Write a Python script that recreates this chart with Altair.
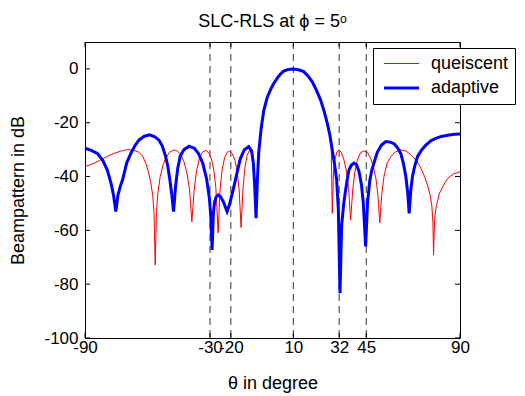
import altair as alt
import pandas as pd

# ---------------- data ----------------
x_ticks = [-90, -30, -20, 10, 32, 45, 90]
y_ticks = [-100, -80, -60, -40, -20, 0]
null_angles = [-30, -20, 10, 32, 45]
series_names = ["queiscent", "adaptive"]
series_colors = ["#ff0000", "#0000ff"]
series_widths = [1, 3]

q_deg = [-90, -87.5, -85.7, -83, -80.9, -78.5, -76, -73, -71, -69.5, -67, -64.5, -62.5, -60.8,
         -59.5, -58.4, -57.5, -56.9, -56.3, -55.7, -55.0, -53.9, -52.5, -51.2, -49.5, -47.2,
         -45.5, -44, -42.5, -41, -39.8, -38.7, -37.6, -36.5, -35, -33.5, -31.9, -30.5, -29.3,
         -28.2, -27.2, -26.1, -25.2, -24.2, -23, -21.8, -20.6, -19.3, -18, -17, -16, -15.1,
         -14.2, -13.3, -12.2, -11, -9.9, -9, -8.3, -7.8, -7.0, -6.6, -5.5, -4.2, -2.5, -1,
         0.5, 2.2, 3.8, 5.4, 7.5, 10, 12.5, 15, 17, 19.1, 21, 23.1, 24.8, 26.3, 27.5, 28.2,
         28.7, 29.3, 30, 31, 31.9, 33, 34.2, 35.5, 36.5, 37.5, 38.5, 39.5, 40.7, 42.2, 43.9,
         45.5, 47, 48.5, 49.7, 50.6, 51.5, 52.4, 53.5, 55, 56.8, 59, 61.6, 64, 66.5, 68.8,
         71, 73, 74.5, 75.7, 76.5, 77, 77.3, 77.8, 78.4, 80, 81.7, 83, 84.8, 87, 90]
q_db = [-36.3, -35.6, -35.1, -34.0, -33.2, -32.2, -31.4, -30.6, -30.2, -30.0, -30.2, -30.8, -32.2,
        -35.1, -38.5, -42.5, -47, -53, -72.9, -53, -46, -40, -35.5, -33.2, -31, -30.1,
        -30.6, -31.8, -34.5, -39, -45, -56.8, -45, -38, -33, -30.8, -30.3, -31.3, -33.5,
        -37.5, -44, -60.9, -45, -37.5, -33, -31, -30.6, -31.5, -34, -38, -45, -58.9,
        -45, -37, -32, -30.2, -31.5, -36, -43, -55, -38, -31, -22.5, -15.5, -10.5, -7.8,
        -5.5, -3.5, -1.9, -0.8, -0.2, 0, -0.3, -1, -2.6, -4.8, -7.8, -11.6, -15.8, -20.2, -24.5, -30,
        -53.7, -38, -33.5, -30.7, -30.1, -31, -33.5, -38, -44, -56.1, -45, -38.5, -34, -31.2, -30.5,
        -31, -33, -36.5, -41, -47, -57.2, -47, -40, -35, -32.6, -30.8, -30.1, -30.5, -32, -33.8,
        -36.5, -40, -43.5, -47, -51, -57, -69.2, -56, -52, -46.5, -43.8, -42, -40.2, -39, -38.2]

a_deg = [-90, -87, -84.1, -81.5, -79.3, -77.5, -76.3, -75.2, -74.2, -73, -72, -70, -68, -66,
         -64, -61.5, -59, -56.5, -54.5, -53, -51.5, -50.3, -49.3, -48.3, -47.5, -46.5, -45.5,
         -44.3, -42.5, -40, -37.5, -35.5, -33.5, -31.6, -30.3, -29.6, -29, -28.4, -27.8, -27,
         -26, -25, -23.5, -21.8, -20.5, -19.2, -18, -17, -15.5, -13.5, -11.4, -10, -9.2, -8.5,
         -7.9, -7.3, -6.6, -5.5, -4.2, -2.5, -1, 0.5, 2.2, 3.8, 5.4, 7.5, 10, 12.5, 15, 17,
         19.1, 21, 23.1, 24.8, 26.3, 27.5, 28.7, 29.8, 30.8, 31.6, 32.4, 33.2, 34.2, 35.1, 36,
         36.7, 37.8, 39.1, 40.3, 41.5, 42.7, 43.6, 44.7, 45.6, 46.7, 47.7, 48.7, 50.3, 52.3,
         54.4, 56.5, 58.4, 60.2, 61.6, 62.8, 64, 64.9, 65.6, 66.4, 67.2, 68.3, 69.6, 71.5,
         73.6, 76, 78.4, 81, 84.8, 87.5, 90]
a_db = [-29.5, -30.3, -31.4, -34, -37.6, -42.5, -47, -53, -47, -43.5, -41.3, -35, -31.4, -28.5,
        -26.4, -25, -24.5, -25.2, -26.5, -28.5, -32, -36, -41, -47, -53, -43.5, -37,
        -32.5, -30, -28.7, -29.5, -31.5, -35, -41, -48, -55, -67.3, -54, -49.5, -47.5,
        -46.8, -47.4, -49.5, -53, -50, -46, -42, -38.5, -33.5, -30, -28.9, -30.5, -35, -44,
        -55.5, -42, -31, -22.5, -15.5, -10.5, -7.8, -5.5, -3.5, -1.9, -0.8, -0.2, 0, -0.3, -1, -2.6,
        -4.8, -7.8, -11.6, -15.8, -20.2, -24.5, -30.1, -35.5, -41.3, -52, -83.4, -58, -50, -45, -40.5,
        -37.6, -35.8, -35, -35.5, -38, -43, -50, -66, -50, -41.5, -37.5, -35, -31, -28.3,
        -27, -27.2, -27.8, -29.5, -31.5, -35, -40, -46, -53.7, -45, -40, -36, -32.6, -30.2,
        -28.3, -26.7, -25.8, -25.1, -24.6, -24.3, -24.2]

# ---------------- tables ----------------
df_q = pd.DataFrame({"deg": q_deg, "db": q_db, "series": series_names[0]})
df_a = pd.DataFrame({"deg": a_deg, "db": a_db, "series": series_names[1]})
df_null = pd.DataFrame({"deg": null_angles})
df_xt = pd.DataFrame({"deg": x_ticks})
df_yt = pd.DataFrame({"db": y_ticks})

FONT = "Liberation Sans"
W, H = 375, 296

xs = alt.Scale(domain=[-90, 90], nice=False, zero=False)
ys = alt.Scale(domain=[-100, 10], nice=False, zero=False)

leg = alt.Legend(
    title=None, orient="none", legendX=288, legendY=6,
    symbolType="M-3,0H3", symbolSize=136,
    symbolOffset=13, labelOffset=20.5,
    labelFont=FONT, labelFontSize=18, labelColor="black",
    labelExpr="datum.label + '   '",
    strokeColor="black", fillColor="white",
    padding=6.5, rowPadding=6.6,
)
color = alt.Color("series:N", scale=alt.Scale(domain=series_names, range=series_colors), legend=leg)
swidth = alt.StrokeWidth("series:N", scale=alt.Scale(domain=series_names, range=series_widths), legend=leg)

x_axis = alt.Axis(values=x_ticks, labelExpr="'' + datum.value", labelFlush=False, labelOverlap=False,
                  labelPadding=1, ticks=False, tickSize=0, domain=False, grid=False,
                  title="θ in degree", titlePadding=19)
y_axis = alt.Axis(values=y_ticks, labelExpr="'' + datum.value", labelOverlap=False,
                  labelPadding=7, ticks=False, tickSize=0, domain=False, grid=False,
                  title="Beampattern in dB", titlePadding=16)

X = alt.X("deg:Q", scale=xs, axis=x_axis)
Y = alt.Y("db:Q", scale=ys, axis=y_axis)

dashed = alt.Chart(df_null).mark_rule(strokeDash=[7, 5], color="#333333", strokeWidth=1).encode(x=X)

red = alt.Chart(df_q).mark_line(interpolate="linear").encode(
    x=X, y=Y, color=color, strokeWidth=swidth)

blue = alt.Chart(df_a).mark_line(interpolate="linear").encode(
    x=X, y=Y, color=color, strokeWidth=swidth)

yt_left = alt.Chart(df_yt).mark_rule(color="black").encode(y=Y, x=alt.value(0), x2=alt.value(5))
yt_right = alt.Chart(df_yt).mark_rule(color="black").encode(y=Y, x=alt.value(W - 5), x2=alt.value(W))
xt_bottom = alt.Chart(df_xt).mark_rule(color="black").encode(x=X, y=alt.value(H - 5), y2=alt.value(H))
xt_top = alt.Chart(df_xt).mark_rule(color="black").encode(x=X, y=alt.value(0), y2=alt.value(5))

chart = alt.layer(dashed, red, blue, yt_left, yt_right, xt_bottom, xt_top).properties(
    width=W, height=H,
    autosize=alt.AutoSizeParams(type="none"),
    padding={"left": 85, "top": 42, "right": 65, "bottom": 58},
    title=alt.TitleParams(text="SLC-RLS at ϕ = 5ᵒ", font=FONT, fontSize=18, fontWeight="normal",
                          color="black", offset=11),
    background="white",
).configure_view(stroke="black", strokeWidth=1).configure_axis(
    labelFont=FONT, labelFontSize=17, labelColor="black",
    titleFont=FONT, titleFontSize=18, titleFontWeight="normal", titleColor="black",
)

chart.save("out.html", embed_options={"renderer": "svg", "actions": False})
